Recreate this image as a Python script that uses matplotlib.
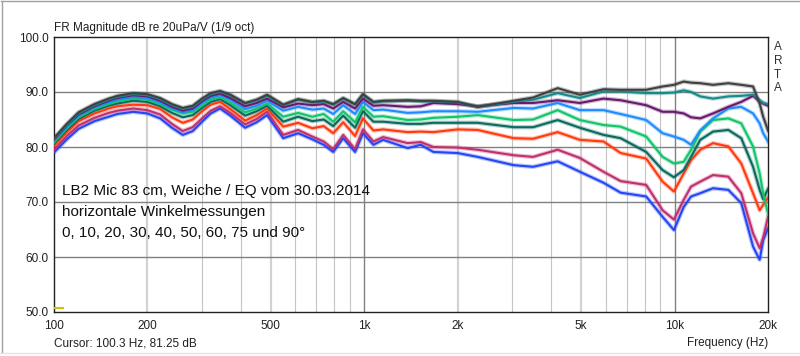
import matplotlib
matplotlib.use("Agg")
from matplotlib import pyplot as plt
from matplotlib.lines import Line2D

plt.rcParams['font.family'] = ['Liberation Sans', 'DejaVu Sans']

# frequency points (Hz)
freqs = [100, 110, 120, 135, 150, 160, 180, 200, 220, 240, 260, 280, 300, 320, 343, 370,
         413, 450, 486, 548, 612, 680, 740, 794, 855,
         934, 990, 1070, 1150, 1380, 1520, 1670, 2000, 2320, 3030, 3500, 4200, 4950, 5900,
         6700, 8100, 9150, 9950, 10700, 11300, 12100, 13300, 14900, 16400, 17900, 18800,
         19300, 20000]

deg0 = [81.6, 84.2, 86.3, 87.8, 88.8, 89.3, 89.8, 89.6, 88.9, 87.8, 87.1, 87.5, 88.8, 89.8, 90.2, 89.5,
        88.0, 88.6, 89.5, 87.7, 88.7, 88.2, 88.4, 87.8, 88.9,
        87.8, 89.6, 88.2, 88.4, 88.5, 88.4, 88.4, 88.2, 87.3, 88.4, 89.0, 90.7, 89.5, 90.5,
        90.4, 90.4, 91.0, 91.3, 91.9, 91.7, 91.6, 91.3, 91.6, 91.3, 91.0, 87.9, 85.5, 83.0]
deg10 = [81.4, 84.0, 86.1, 87.6, 88.6, 89.1, 89.6, 89.4, 88.7, 87.6, 86.9, 87.3, 88.6, 89.6, 90.0, 89.4,
         87.9, 88.5, 89.3, 87.6, 88.6, 88.1, 88.3, 87.7, 88.8,
         87.7, 89.5, 88.1, 88.3, 88.4, 88.3, 88.3, 88.1, 87.3, 88.2, 88.6, 89.8, 88.9, 90.1,
         90.1, 89.8, 89.8, 89.9, 90.3, 90.0, 89.2, 88.8, 89.2, 89.3, 89.5, 88.5, 88.0, 87.8]
deg20 = [81.3, 83.9, 85.9, 87.4, 88.4, 88.9, 89.4, 89.2, 88.4, 87.3, 86.6, 87.0, 88.3, 89.3, 89.7, 88.9,
         87.4, 88.0, 88.8, 87.2, 87.9, 87.6, 87.8, 87.0, 88.2,
         87.0, 88.8, 87.5, 87.6, 87.3, 87.4, 88.0, 87.8, 87.4, 88.0, 88.0, 88.5, 88.0, 88.8,
         88.5, 87.6, 86.4, 86.4, 86.1, 85.4, 85.2, 86.1, 87.3, 88.2, 89.3, 88.3, 87.9, 87.5]
deg30 = [81.1, 83.7, 85.7, 87.2, 88.1, 88.6, 89.1, 88.9, 88.1, 87.0, 86.3, 86.7, 88.0, 89.0, 89.4, 88.6,
         86.9, 87.5, 88.4, 86.6, 87.3, 86.8, 87.0, 86.0, 87.6,
         86.0, 88.2, 86.7, 86.8, 86.2, 86.3, 86.5, 86.5, 86.4, 87.1, 87.0, 88.0, 86.7, 86.7,
         86.0, 84.9, 82.5, 81.9, 81.3, 80.4, 83.0, 85.2, 87.0, 87.3, 86.1, 84.3, 82.5, 81.0]
deg40 = [80.8, 83.4, 85.4, 86.9, 87.8, 88.3, 88.8, 88.6, 87.8, 86.8, 86.1, 86.4, 87.5, 88.6, 89.0, 88.1,
         86.3, 87.0, 87.9, 85.5, 86.2, 85.5, 86.0, 84.6, 86.5,
         84.5, 87.3, 85.5, 85.6, 84.9, 85.0, 85.3, 85.5, 85.8, 84.9, 85.0, 86.7, 84.9, 84.0,
         83.7, 81.9, 78.2, 77.0, 77.3, 79.5, 82.8, 84.9, 85.2, 84.3, 80.1, 75.2, 71.5, 67.9]
deg50 = [80.6, 83.1, 85.1, 86.6, 87.5, 87.9, 88.4, 88.2, 87.4, 86.2, 85.4, 85.8, 87.1, 88.2, 88.7, 87.6,
         85.7, 86.5, 87.5, 84.6, 85.5, 84.7, 85.0, 83.8, 85.7,
         83.5, 86.5, 84.6, 84.6, 84.2, 84.2, 84.4, 84.4, 84.4, 83.6, 83.6, 84.9, 83.5, 82.2,
         81.6, 79.1, 75.8, 74.5, 75.8, 78.2, 81.3, 82.8, 83.1, 81.6, 76.4, 72.2, 70.5, 72.4]
deg60 = [80.2, 82.7, 84.7, 86.1, 87.0, 87.4, 87.7, 87.6, 86.9, 85.4, 84.4, 85.0, 86.5, 87.7, 88.2, 86.9,
         84.8, 85.8, 87.0, 83.7, 84.4, 83.4, 83.8, 82.5, 84.5,
         82.0, 85.2, 83.0, 83.2, 82.7, 82.8, 82.7, 83.2, 83.1, 81.6, 81.5, 82.7, 81.3, 81.0,
         78.9, 77.9, 73.7, 71.9, 75.2, 77.6, 79.5, 80.7, 80.1, 77.0, 71.6, 68.5, 69.5, 70.8]
deg75 = [79.5, 82.0, 83.9, 85.3, 86.2, 86.6, 87.0, 86.7, 85.9, 84.2, 82.9, 83.6, 85.2, 86.6, 87.4, 86.2,
         84.1, 85.1, 86.4, 82.2, 83.1, 81.9, 81.0, 79.6, 82.2,
         79.6, 83.2, 81.0, 81.8, 80.7, 80.9, 80.0, 79.9, 79.5, 78.5, 78.2, 79.5, 78.0, 75.5,
         73.8, 73.1, 68.5, 66.8, 70.4, 72.8, 73.7, 74.9, 74.6, 71.6, 64.3, 61.6, 63.5, 67.3]
deg90 = [79.0, 81.4, 83.3, 84.7, 85.5, 86.0, 86.4, 86.1, 85.2, 83.5, 82.2, 82.9, 84.6, 86.1, 87.0, 85.7,
         83.5, 84.5, 85.8, 81.6, 82.5, 81.4, 80.4, 79.1, 81.6,
         79.1, 82.5, 80.4, 81.3, 79.8, 80.4, 79.1, 78.9, 78.2, 76.7, 76.4, 77.4, 75.5, 73.5,
         71.7, 71.0, 67.3, 64.9, 69.1, 71.0, 71.6, 72.5, 72.2, 69.8, 61.9, 59.5, 63.1, 65.2]

curves = [deg0, deg10, deg20, deg30, deg40, deg50, deg60, deg75, deg90]
colors = ['#404040', '#16898a', '#681a6c', '#1e8cff', '#12c46a', '#0b6a5e',
          '#ff3a0e', '#c0306e', '#2446f5']

x_ticks = [100, 200, 500, 1000, 2000, 5000, 10000, 20000]
x_labels = ['100', '200', '500', '1k', '2k', '5k', '10k', '20k']
y_ticks = [50, 60, 70, 80, 90, 100]
decade_lines = [1000, 10000]
minor_lines = [300, 400, 600, 700, 800, 900, 3000, 4000, 6000, 7000, 8000, 9000]
major_light_lines = [200, 500, 2000, 5000]

cursor_freq = [101, 107]
cursor_db = [50.7, 50.7]

fig = plt.figure(figsize=(8, 3.56), dpi=100)
ax = fig.add_axes([54 / 800, 1 - 312 / 356, 714 / 800, 275 / 356])

ax.set_xscale('log')
ax.set_xlim(100, 20000)
ax.set_ylim(50, 100)

# grid like ARTA
for f in minor_lines:
    ax.axvline(f, color='#c4c4c4', lw=0.8, zorder=1)
for f in major_light_lines:
    ax.axvline(f, color='#d2d2d2', lw=1.6, zorder=1)
for f in decade_lines:
    ax.axvline(f, color='#808080', lw=1.0, zorder=1)
for y in y_ticks[1:-1]:
    ax.axhline(y, color='#808080', lw=1.0, zorder=1)

for db, c in zip(curves[::-1], colors[::-1]):
    ax.plot(freqs, db, color=c, lw=3.2, alpha=0.3, zorder=2, solid_joinstyle='round')
    ax.plot(freqs, db, color=c, lw=1.5, zorder=3, solid_joinstyle='round')

ax.plot(cursor_freq, cursor_db, color='#c8c800', lw=1.5, zorder=4)

ax.set_xticks(x_ticks)
ax.set_xticklabels(x_labels)
ax.xaxis.set_minor_locator(matplotlib.ticker.NullLocator())
ax.set_yticks(y_ticks)
ax.set_yticklabels([f"{v:.1f}" for v in y_ticks])
ax.tick_params(length=0, labelsize=8.5, colors='#202020', pad=6)
ax.tick_params(axis='y', pad=4)
for s in ax.spines.values():
    s.set_color('#202020')
    s.set_linewidth(1.0)

ax.text(0.0, 1 + 6 / 275, "FR Magnitude dB re 20uPa/V (1/9 oct)", transform=ax.transAxes,
        fontsize=8.5, color='#202020', va='baseline', ha='left')
fig.text(774 / 800, 1 - 41 / 356, "A\nR\nT\nA", fontsize=8.5, color='#303030',
         va='top', ha='left', linespacing=1.2)

ax.text(8 / 714, (312 - 191) / 275, "LB2 Mic 83 cm, Weiche / EQ vom 30.03.2014",
        transform=ax.transAxes, fontsize=11, va='center', ha='left', color='#101010')
ax.text(8 / 714, (312 - 212) / 275, "horizontale Winkelmessungen",
        transform=ax.transAxes, fontsize=11, va='center', ha='left', color='#101010')
ax.text(8 / 714, (312 - 233) / 275, "0, 10, 20, 30, 40, 50, 60, 75 und 90°",
        transform=ax.transAxes, fontsize=11, va='center', ha='left', color='#101010')

fig.text(54 / 800, 1 - 343 / 356, "Cursor: 100.3 Hz, 81.25 dB", fontsize=8.5,
         color='#202020', va='center', ha='left')
fig.text(768 / 800, 1 - 343 / 356, "Frequency (Hz)", fontsize=8.5,
         color='#202020', va='center', ha='right')

# outer window border
fig.add_artist(Line2D([0.001, 0.999], [0.997, 0.997], transform=fig.transFigure, color='#a0a0a0', lw=1))
fig.add_artist(Line2D([0.002, 0.002], [0.01, 0.997], transform=fig.transFigure, color='#a0a0a0', lw=1))
fig.add_artist(Line2D([0.0, 1.0], [0.008, 0.008], transform=fig.transFigure, color='#e4e4e4', lw=1))

fig.savefig("out.png", dpi=100)
